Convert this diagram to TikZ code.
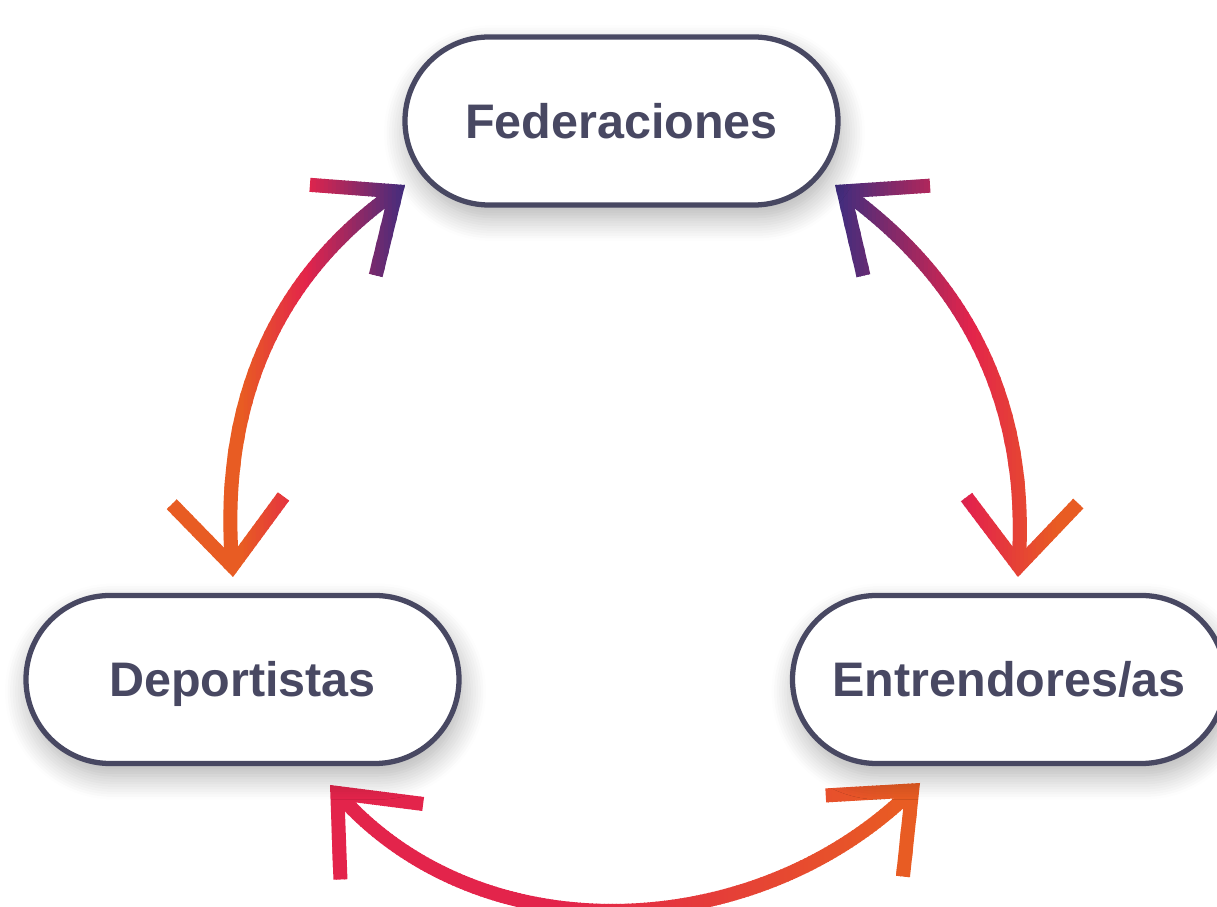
\documentclass[tikz,border=0pt]{standalone}
\usepackage{fontspec}
\newfontfamily\nodefont{Liberation Sans}
\usetikzlibrary{arrows.meta,backgrounds,shadows.blur}
\definecolor{nodeline}{RGB}{72,72,98}
\definecolor{floworange}{RGB}{232,92,35}
\definecolor{flowred}{RGB}{227,36,75}
\definecolor{flowpurple}{RGB}{63,45,127}

% #1,#2 : bandes ; #3,#4,#5 : arrets du degrade ; #6 : chemin
\newcommand{\gradflow}[6]{%
  \pgfmathtruncatemacro{\nstrips}{(#2-#1)/0.04}
  \foreach \k in {0,...,\nstrips}{
    \pgfmathsetmacro{\stripx}{#1+0.04*\k}
    \pgfmathsetmacro{\mixa}{min(100,max(0,(\stripx-#3)/(#4-#3)*100))}
    \pgfmathsetmacro{\mixb}{min(100,max(0,(\stripx-#4)/(#5-#4)*100))}
    \colorlet{stripcol}{stopB!\mixa!stopA}
    \colorlet{stripcol}{stopC!\mixb!stripcol}
    \begin{scope}
      \clip (\stripx,0) rectangle (\stripx+0.05,-9.07);
      \draw[flow, stripcol] #6;
    \end{scope}
  }%
}

\begin{document}
\begin{tikzpicture}[
  box/.style={draw=nodeline, line width=1.5pt, fill=white, rounded corners=0.84cm,
    minimum width=4.33cm, minimum height=1.68cm, inner sep=0pt,
    text=nodeline, font=\nodefont\bfseries\fontsize{13.8pt}{16pt}\selectfont,
    text height=0.35cm, text depth=0pt,
    blur shadow={shadow xshift=0.3mm, shadow yshift=-1.2mm, shadow blur radius=2.4mm,
      shadow blur steps=10, shadow opacity=32}},
  flow/.style={line width=0.14cm, <->, >={Straight Barb[length=6.6mm, width=11.2mm]}}]
  \useasboundingbox (0,0) rectangle (12.17,-9.07);

  \node[box] (0) at (6.215,-1.21) {Federaciones};
  \node[box] (1) at (2.425,-6.795) {Deportistas};
  \node[box] (2) at (10.09,-6.795) {Entrendores/as};

  \coordinate (3) at (2.33,-5.77);
  \coordinate (4) at (4.05,-1.85);
  \coordinate (5) at (8.35,-1.85);
  \coordinate (6) at (10.18,-5.77);
  \coordinate (7) at (3.30,-7.85);
  \coordinate (8) at (9.20,-7.83);

  \begin{scope}[on background layer]
    \colorlet{stopA}{floworange}\colorlet{stopB}{flowred}\colorlet{stopC}{flowpurple}
    \gradflow{1.60}{4.16}{2.40}{3.05}{4.05}{(3) to[out=94, in=216] (4)}
    \colorlet{stopA}{flowpurple}\colorlet{stopB}{flowred}\colorlet{stopC}{floworange}
    \gradflow{8.28}{10.92}{8.35}{9.70}{10.55}{(5) to[out=323.5, in=86.7] (6)}
    \colorlet{stopA}{flowred}\colorlet{stopB}{flowred}\colorlet{stopC}{floworange}
    \gradflow{3.20}{9.36}{3.30}{5.60}{9.00}{(7) to[out=-47.6, in=223.6] (8)}
  \end{scope}
\end{tikzpicture}
\end{document}
